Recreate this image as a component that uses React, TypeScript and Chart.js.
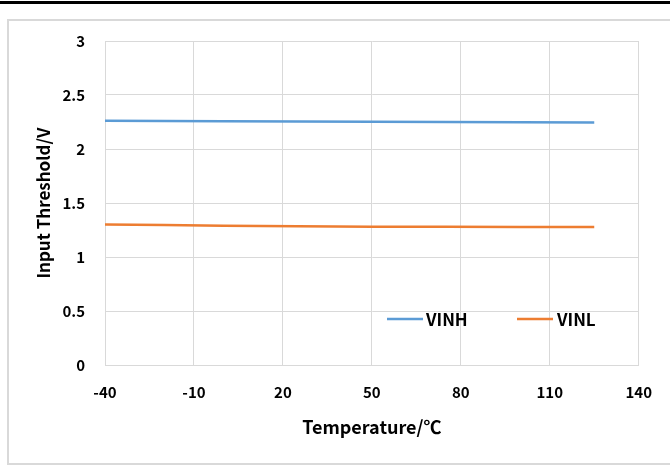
import React, { useEffect, useRef } from "react";
import { Chart, registerables } from "chart.js";

Chart.register(...registerables);

const temperatures = [-40, -20, 0, 25, 50, 75, 100, 125];
const vinh = [2.262, 2.259, 2.256, 2.254, 2.252, 2.25, 2.248, 2.246];
const vinl = [1.302, 1.296, 1.29, 1.284, 1.28, 1.279, 1.278, 1.278];
const seriesNames = ["VINH", "VINL"];
const seriesColors = ["#5b9bd5", "#ed7d31"];
const xTitle = "Temperature/℃";
const yTitle = "Input Threshold/V";

const FONT = "'Noto Sans CJK SC', 'Noto Sans', sans-serif";

const insideLegend = {
  id: "insideLegend",
  afterDraw(chart: any) {
    const ctx = chart.ctx;
    const items = [
      { lineX: 387, textX: 426 },
      { lineX: 517, textX: 557 },
    ];
    const y = 319;
    ctx.save();
    ctx.font = `bold 17px ${FONT}`;
    ctx.textBaseline = "middle";
    ctx.textAlign = "left";
    chart.data.datasets.forEach((ds: any, i: number) => {
      const it = items[i];
      ctx.strokeStyle = ds.borderColor;
      ctx.lineWidth = 2.5;
      ctx.beginPath();
      ctx.moveTo(it.lineX, y);
      ctx.lineTo(it.lineX + 36, y);
      ctx.stroke();
      ctx.fillStyle = "#000";
      ctx.fillText(ds.label, it.textX, y + 1);
    });
    ctx.restore();
  },
};

export default function App() {
  const ref = useRef<HTMLCanvasElement | null>(null);

  useEffect(() => {
    if (!ref.current) return;
    const chart = new Chart(ref.current, {
      type: "line",
      data: {
        datasets: [
          {
            label: seriesNames[0],
            data: temperatures.map((t, i) => ({ x: t, y: vinh[i] })),
            borderColor: seriesColors[0],
            backgroundColor: seriesColors[0],
            borderWidth: 2.5,
            pointRadius: 0,
            tension: 0,
          },
          {
            label: seriesNames[1],
            data: temperatures.map((t, i) => ({ x: t, y: vinl[i] })),
            borderColor: seriesColors[1],
            backgroundColor: seriesColors[1],
            borderWidth: 2.5,
            pointRadius: 0,
            tension: 0,
          },
        ],
      },
      options: {
        responsive: false,
        animation: false,
        events: [],
        layout: { padding: { top: 41, right: 31, left: 0, bottom: 0 } },
        plugins: {
          legend: { display: false },
          tooltip: { enabled: false },
          title: { display: false },
        },
        scales: {
          x: {
            type: "linear",
            min: -40,
            max: 140,
            afterFit: (s: any) => {
              s.height = 101;
            },
            ticks: {
              stepSize: 30,
              padding: 18,
              color: "#000",
              font: { family: FONT, size: 15, weight: "bold" },
              callback: (v: any) => String(v),
            },
            grid: { color: "#d9d9d9", lineWidth: 1, drawTicks: false },
            border: { color: "#d9d9d9", width: 1 },
            title: {
              display: true,
              text: xTitle,
              color: "#000",
              font: { family: FONT, size: 18, weight: "bold" },
              padding: { top: 0, bottom: 28 },
            },
          },
          y: {
            type: "linear",
            min: 0,
            max: 3,
            afterFit: (s: any) => {
              s.width = 105;
            },
            ticks: {
              stepSize: 0.5,
              padding: 20,
              color: "#000",
              font: { family: FONT, size: 15, weight: "bold" },
              callback: (v: any) => String(v),
            },
            grid: { color: "#d9d9d9", lineWidth: 1, drawTicks: false },
            border: { color: "#d9d9d9", width: 1 },
            title: {
              display: true,
              text: yTitle,
              color: "#000",
              font: { family: FONT, size: 17, weight: "bold" },
              padding: { top: 33, bottom: 0 },
            },
          },
        },
      },
      plugins: [insideLegend],
    });
    return () => chart.destroy();
  }, []);

  return (
    <div
      style={{
        position: "absolute",
        left: 0,
        top: 0,
        width: 670,
        height: 466,
        overflow: "hidden",
        background: "#fff",
      }}
    >
      <div
        style={{
          position: "absolute",
          left: 0,
          top: 1,
          width: 670,
          height: 3,
          background: "#000",
        }}
      />
      <div
        style={{
          position: "absolute",
          left: 7,
          top: 19,
          width: 720,
          height: 446,
          border: "2px solid #d9d9d9",
          boxSizing: "border-box",
        }}
      />
      <canvas
        ref={ref}
        width={670}
        height={466}
        style={{ position: "absolute", left: 0, top: 0, width: 670, height: 466 }}
      />
    </div>
  );
}
